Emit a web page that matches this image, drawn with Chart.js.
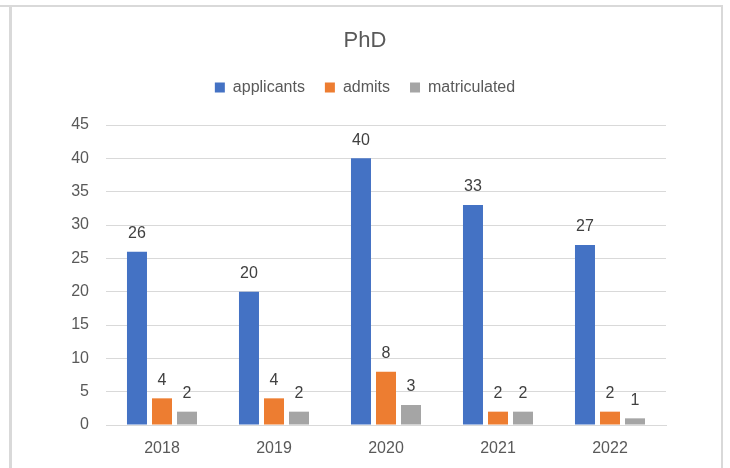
<!DOCTYPE html>
<html>
<head>
<meta charset="utf-8">
<script src="https://cdn.jsdelivr.net/npm/chart.js@4/dist/chart.umd.min.js"></script>
<style>
  html, body { margin: 0; padding: 0; background: #ffffff; }
  #wrap { position: relative; width: 730px; height: 468px; overflow: hidden; }
  #c { position: absolute; left: 0; top: 0; }
  .ln { position: absolute; background: #d9d9d9; }
</style>
</head>
<body>
<div id="wrap">
  <canvas id="c" width="730" height="468"></canvas>
  <div class="ln" style="left:0;top:5px;width:723px;height:2px;"></div>
  <div class="ln" style="left:9px;top:5px;width:3px;height:463px;"></div>
  <div class="ln" style="left:721px;top:5px;width:2px;height:463px;"></div>
</div>
<script>
const titleText = "PhD";
const categories = ["2018", "2019", "2020", "2021", "2022"];
const seriesNames = ["applicants", "admits", "matriculated"];
const applicants = [26, 20, 40, 33, 27];
const admits = [4, 4, 8, 2, 2];
const matriculated = [2, 2, 3, 2, 1];
const yTicks = [0, 5, 10, 15, 20, 25, 30, 35, 40, 45];

const colors = ["#4472C4", "#ED7D31", "#A5A5A5"];
const FONT = "'Liberation Sans', Arial, sans-serif";

const dataLabels = {
  id: "dataLabels",
  afterDatasetsDraw(chart) {
    const ctx = chart.ctx;
    ctx.save();
    ctx.font = "16px " + FONT;
    ctx.fillStyle = "#404040";
    ctx.textAlign = "center";
    ctx.textBaseline = "middle";
    chart.data.datasets.forEach((ds, i) => {
      const meta = chart.getDatasetMeta(i);
      meta.data.forEach((el, j) => {
        ctx.fillText(String(ds.data[j]), el.x, el.y - 18);
      });
    });
    ctx.restore();
  }
};

const seriesData = [applicants, admits, matriculated];

new Chart(document.getElementById("c"), {
  type: "bar",
  data: {
    labels: categories,
    datasets: seriesNames.map((name, i) => ({
      label: name,
      data: seriesData[i],
      backgroundColor: colors[i],
      borderWidth: 0,
      categoryPercentage: 0.67,
      barPercentage: 0.8
    }))
  },
  options: {
    responsive: false,
    animation: false,
    devicePixelRatio: 1,
    layout: { padding: 0 },
    plugins: {
      title: {
        display: true,
        text: titleText,
        color: "#595959",
        font: { family: FONT, size: 22, weight: "normal" },
        padding: { top: 28, bottom: 5 }
      },
      legend: {
        display: true,
        position: "top",
        labels: {
          color: "#595959",
          font: { family: FONT, size: 16 },
          boxWidth: 10,
          boxHeight: 10,
          padding: 20
        }
      },
      tooltip: { enabled: false }
    },
    scales: {
      x: {
        grid: { display: false, drawTicks: false },
        border: { display: true, color: "#d9d9d9" },
        ticks: {
          color: "#595959",
          font: { family: FONT, size: 16 },
          padding: 14
        },
        afterFit(s) { s.height = 43; s.paddingRight = 64; }
      },
      xTopSpacer: {
        type: "category",
        position: "top",
        grid: { display: false, drawTicks: false },
        border: { display: false },
        ticks: { display: false },
        afterFit(s) { s.height = 19.6; }
      },
      y: {
        min: 0,
        max: 45,
        afterBuildTicks(s) { s.ticks = yTicks.map(v => ({ value: v })); },
        grid: { color: "#d9d9d9", lineWidth: 1, drawTicks: false },
        border: { display: false },
        ticks: {
          color: "#595959",
          font: { family: FONT, size: 16 },
          padding: 17
        },
        afterFit(s) { s.width = 106; }
      }
    }
  },
  plugins: [dataLabels]
});
</script>
</body>
</html>
